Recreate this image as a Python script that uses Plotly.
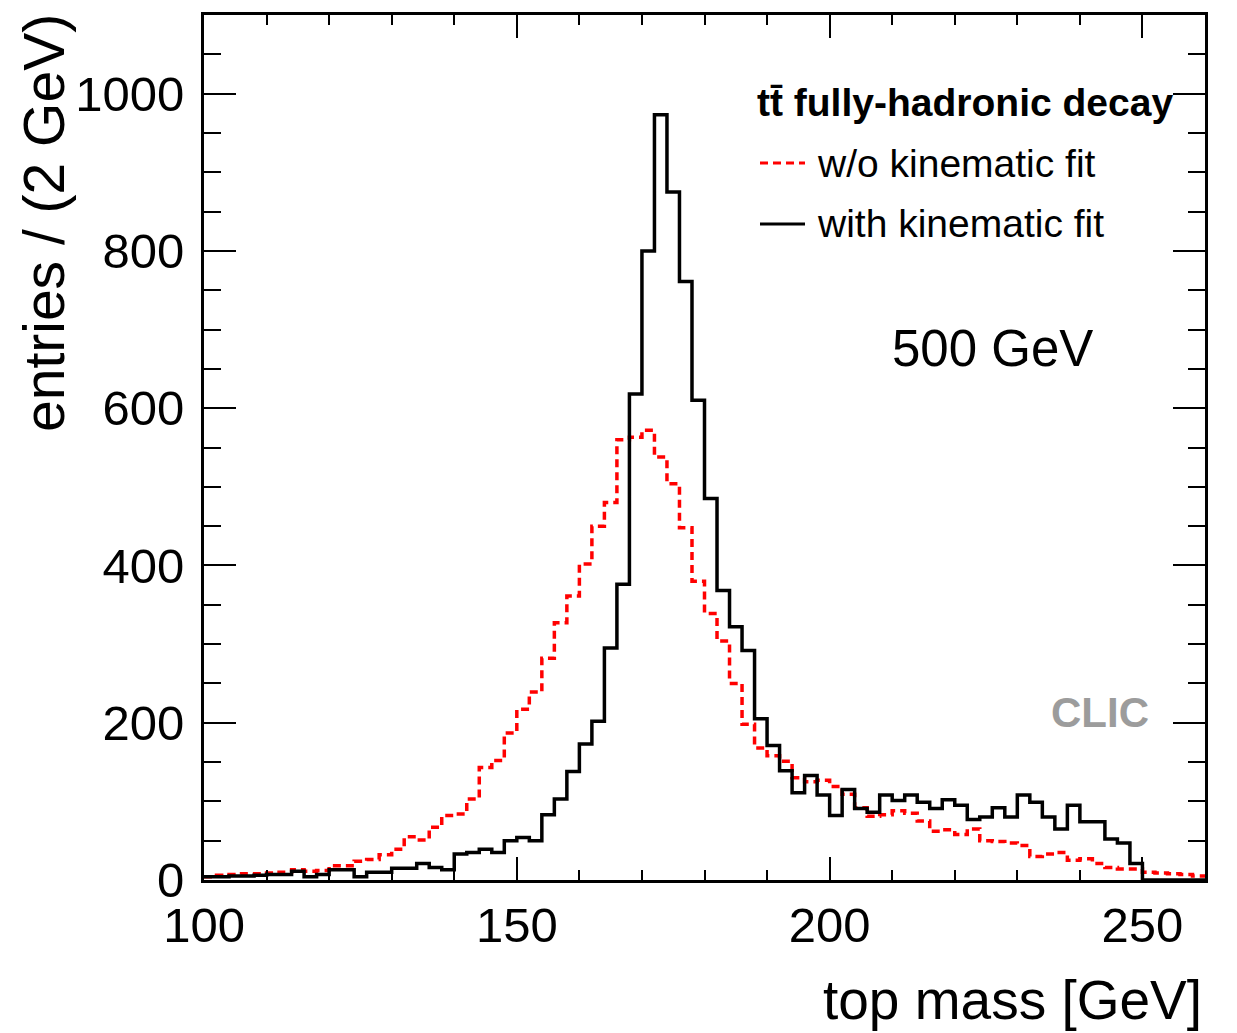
import plotly.graph_objects as go

# ---- data (2 GeV bins from 100 to 260 GeV) ----
bin_edges = [100 + 2 * i for i in range(81)]

without_fit = [4, 6, 7, 8, 8, 9, 10, 13, 11, 12,
               18, 18, 24, 26, 32, 39, 55, 51, 67, 82,
               84, 103, 143, 152, 187, 217, 239, 282, 327, 361,
               402, 450, 480, 560, 563, 572, 538, 504, 448, 380,
               339, 304, 250, 198, 168, 158, 151, 130, 125, 127,
               119, 109, 92, 81, 83, 88, 85, 75, 62, 64,
               58, 65, 50, 49, 47, 44, 30, 33, 35, 25,
               27, 21, 16, 14, 14, 10, 9, 8, 7, 5]

with_fit = [4, 4, 5, 5, 6, 7, 7, 11, 4, 7,
            13, 13, 4, 10, 10, 15, 15, 21, 16, 13,
            33, 35, 39, 35, 50, 54, 50, 83, 103, 138,
            173, 202, 295, 376, 618, 800, 973, 875, 761, 610,
            485, 368, 322, 292, 205, 171, 139, 111, 133, 108,
            82, 115, 91, 86, 108, 101, 108, 99, 91, 102,
            95, 77, 80, 92, 80, 108, 99, 80, 65, 95,
            74, 74, 52, 47, 21, 0, 0, 0, 0, 0]

x_ticks = [100, 150, 200, 250]
y_ticks = [0, 200, 400, 600, 800, 1000]

FONT = "Liberation Sans, Arial, Helvetica, sans-serif"

# ---- layout geometry (pixels) ----
W, H = 1237, 1033
L, R, T, B = 204, 32, 15, 153
PW, PH = W - L - R, H - T - B


def px(X):
    return (X - L) / PW


def py(Y):
    return (H - B - Y) / PH


fig = go.Figure()

fig.add_trace(go.Scatter(
    x=bin_edges, y=without_fit + [without_fit[-1]],
    mode="lines", line=dict(shape="hv", color="#ff0000", width=3.5, dash="8px,5px"),
    name="w/o kinematic fit", showlegend=False))

fig.add_trace(go.Scatter(
    x=bin_edges, y=with_fit + [with_fit[-1]],
    mode="lines", line=dict(shape="hv", color="#000000", width=3.5),
    name="with kinematic fit", showlegend=False))

fig.update_layout(
    width=W, height=H,
    margin=dict(l=L, r=R, t=T, b=B, pad=0),
    paper_bgcolor="white", plot_bgcolor="white",
    font=dict(family=FONT, color="black"),
    showlegend=False,
)

fig.update_xaxes(
    range=[100, 260], tickvals=x_ticks, ticks="inside", ticklen=23, tickwidth=2,
    tickcolor="black", minor=dict(dtick=10, ticks="inside", ticklen=10, tickwidth=2, tickcolor="black"),
    showline=True, linewidth=3, linecolor="black", mirror="allticks",
    showgrid=False, zeroline=False, tickfont=dict(size=49, family=FONT),
)
fig.update_yaxes(
    range=[0, 1100], tickvals=y_ticks, ticks="inside", ticklen=32, tickwidth=2,
    tickcolor="black", minor=dict(dtick=50, ticks="inside", ticklen=17, tickwidth=2, tickcolor="black"),
    showline=True, linewidth=3, linecolor="black", mirror="allticks",
    showgrid=False, zeroline=False, tickfont=dict(size=49, family=FONT),
    ticklabelstandoff=7,
)

ann = []
ann.append(dict(text="<b>tt\u0304 fully-hadronic decay</b>", x=px(756), y=py(103),
                xanchor="left", yanchor="middle", font=dict(size=39)))
ann.append(dict(text="w/o kinematic fit", x=px(816), y=py(164),
                xanchor="left", yanchor="middle", font=dict(size=39)))
ann.append(dict(text="with kinematic fit", x=px(816), y=py(223),
                xanchor="left", yanchor="middle", font=dict(size=39)))
ann.append(dict(text="500 GeV", x=px(891), y=py(348),
                xanchor="left", yanchor="middle", font=dict(size=51)))
ann.append(dict(text="<b>CLIC</b>", x=px(1050), y=py(712),
                xanchor="left", yanchor="middle", font=dict(size=42, color="#9c9c9c")))
ann.append(dict(text="top mass [GeV]", x=px(1203), y=py(1000),
                xanchor="right", yanchor="middle", font=dict(size=55)))
ann.append(dict(text="entries / (2 GeV)", x=px(44), y=py(13), textangle=-90,
                xanchor="center", yanchor="top", font=dict(size=57)))
for a in ann:
    a.update(xref="paper", yref="paper", showarrow=False, borderpad=0)
fig.update_layout(annotations=ann)

fig.update_layout(shapes=[
    dict(type="line", xref="paper", yref="paper", x0=px(760), x1=px(805), y0=py(163), y1=py(163),
         line=dict(color="#ff0000", width=3, dash="8px,5px")),
    dict(type="line", xref="paper", yref="paper", x0=px(760), x1=px(805), y0=py(224), y1=py(224),
         line=dict(color="black", width=3)),
])

fig.write_html("out.html")
